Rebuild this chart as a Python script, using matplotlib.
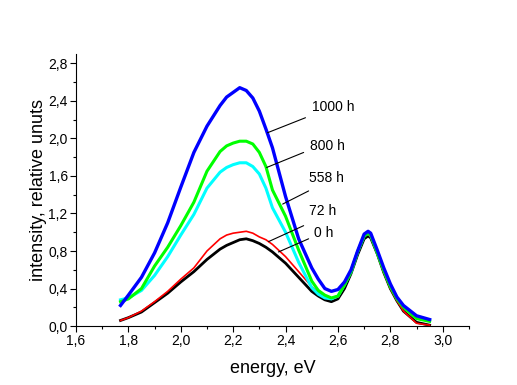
import matplotlib
matplotlib.use("Agg")
import matplotlib.pyplot as plt
from matplotlib.ticker import FixedLocator, MultipleLocator

plt.rcParams['font.family'] = ['Liberation Sans', 'DejaVu Sans']

# photon energy, eV
energy = [1.77, 1.80, 1.85, 1.90, 1.95, 2.00, 2.05, 2.10, 2.15, 2.175, 2.20, 2.225,
          2.25, 2.275, 2.30, 2.325, 2.35, 2.40, 2.45, 2.50, 2.525, 2.55, 2.575, 2.60,
          2.625, 2.65, 2.675, 2.70, 2.715, 2.725, 2.75, 2.775, 2.80, 2.825, 2.85,
          2.90, 2.95]

# intensity, relative units
i_0h = [0.06, 0.09, 0.15, 0.25, 0.35, 0.47, 0.58, 0.71, 0.82, 0.86, 0.89, 0.92,
        0.93, 0.91, 0.88, 0.84, 0.79, 0.67, 0.52, 0.37, 0.32, 0.28, 0.26, 0.29,
        0.40, 0.56, 0.76, 0.93, 0.96, 0.94, 0.77, 0.57, 0.40, 0.27, 0.16,
        0.04, 0.01]
i_72h = [0.06, 0.09, 0.16, 0.26, 0.37, 0.50, 0.62, 0.80, 0.93, 0.97, 0.99, 1.00,
         1.01, 0.99, 0.95, 0.92, 0.87, 0.74, 0.58, 0.42, 0.36, 0.31, 0.29, 0.31,
         0.43, 0.60, 0.80, 0.96, 0.98, 0.95, 0.77, 0.57, 0.40, 0.27, 0.16,
         0.03, 0.01]
i_558h = [0.28, 0.30, 0.38, 0.54, 0.74, 0.97, 1.19, 1.47, 1.64, 1.69, 1.72, 1.74,
          1.74, 1.70, 1.62, 1.47, 1.26, 1.00, 0.68, 0.41, 0.34, 0.30, 0.29, 0.32,
          0.44, 0.58, 0.79, 0.96, 0.99, 0.97, 0.79, 0.60, 0.43, 0.30, 0.21,
          0.09, 0.06]
i_800h = [0.26, 0.29, 0.40, 0.64, 0.84, 1.07, 1.32, 1.65, 1.86, 1.92, 1.95, 1.97,
          1.97, 1.94, 1.85, 1.70, 1.45, 1.17, 0.81, 0.48, 0.38, 0.33, 0.30, 0.32,
          0.44, 0.58, 0.79, 0.96, 0.99, 0.97, 0.78, 0.59, 0.42, 0.29, 0.20,
          0.08, 0.05]
i_1000h = [0.22, 0.33, 0.52, 0.78, 1.10, 1.48, 1.85, 2.13, 2.35, 2.44, 2.49, 2.54,
           2.51, 2.43, 2.29, 2.10, 1.90, 1.38, 0.93, 0.62, 0.50, 0.40, 0.37, 0.39,
           0.47, 0.60, 0.80, 0.98, 1.01, 0.99, 0.81, 0.62, 0.45, 0.31, 0.22,
           0.11, 0.07]

series = [
    (i_0h, 'black', 2.0, '0 h'),
    (i_72h, '#ff0000', 1.2, '72 h'),
    (i_558h, '#00ffff', 2.2, '558 h'),
    (i_800h, '#00ff00', 2.2, '800 h'),
    (i_1000h, '#0000ff', 2.4, '1000 h'),
]

# label text position, line start, line end (data coordinates)
labels = {
    '1000 h': ((2.50, 2.33), (2.476, 2.22), (2.331, 2.06)),
    '800 h': ((2.495, 1.92), (2.469, 1.85), (2.328, 1.69)),
    '558 h': ((2.491, 1.58), (2.488, 1.44), (2.389, 1.30)),
    '72 h': ((2.491, 1.23), (2.469, 1.07), (2.335, 0.90)),
    '0 h': ((2.51, 0.99), (2.488, 0.93), (2.373, 0.79)),
}

x_ticks = [1.6, 1.8, 2.0, 2.2, 2.4, 2.6, 2.8, 3.0]
x_ticklabels = ['1,6', '1,8', '2,0', '2,2', '2,4', '2,6', '2,8', '3,0']
y_ticks = [0.0, 0.4, 0.8, 1.2, 1.6, 2.0, 2.4, 2.8]
y_ticklabels = ['0,0', '0,4', '0,8', '1,2', '1,6', '2,0', '2,4', '2,8']

fig = plt.figure(figsize=(5.17, 3.85), dpi=100)
ax = fig.add_axes([0.147, 0.153, 0.760, 0.707])

for vals, col, lw, name in series:
    ax.plot(energy, vals, color=col, lw=lw)

for name, (txt, p0, p1) in labels.items():
    ax.text(txt[0], txt[1], name, fontsize=10, ha='left', va='center')
    ax.annotate('', xy=p1, xytext=p0,
                arrowprops=dict(arrowstyle='-', color='black', lw=0.8,
                                shrinkA=0, shrinkB=0))

ax.set_xlim(1.6, 3.1)
ax.set_ylim(0.0, 2.9)
ax.xaxis.set_major_locator(FixedLocator(x_ticks))
ax.set_xticklabels(x_ticklabels)
ax.xaxis.set_minor_locator(MultipleLocator(0.1))
ax.yaxis.set_major_locator(FixedLocator(y_ticks))
ax.set_yticklabels(y_ticklabels)
ax.yaxis.set_minor_locator(MultipleLocator(0.2))

for s in ['top', 'right']:
    ax.spines[s].set_visible(False)
for s in ['left', 'bottom']:
    ax.spines[s].set_linewidth(0.8)

ax.tick_params(which='major', direction='out', length=4, width=0.8, labelsize=10, pad=2)
ax.tick_params(which='minor', direction='out', length=2.5, width=0.8)

ax.set_xlabel('energy, eV', fontsize=13, labelpad=8)
ax.set_ylabel('intensity, relative unuts', fontsize=13, labelpad=1)

fig.savefig('out.png', dpi=100)
